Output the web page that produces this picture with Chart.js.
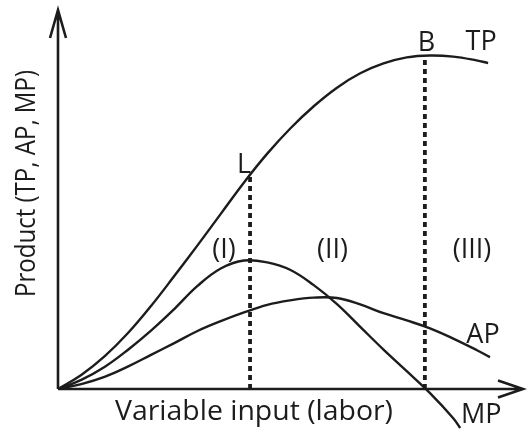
<!DOCTYPE html>
<html>
<head>
<meta charset="utf-8">
<script src="https://cdn.jsdelivr.net/npm/chart.js@4/dist/chart.umd.min.js"></script>
<style>
  html, body { margin: 0; padding: 0; background: #fff; }
  .chart-frame { position: relative; width: 527px; height: 429px; }
</style>
</head>
<body>
<div class="chart-frame"><canvas id="productChart"></canvas></div>
<script>
// labour input (x) and product (y), in chart units
const tpInput = [0, 0.5, 1, 1.5, 2, 2.5, 3, 3.5, 4, 4.5, 5, 5.5, 6, 6.5, 7, 7.5, 8, 8.5, 9, 9.25];
const tpValues = [0, 0.37, 0.86, 1.47, 2.19, 2.98, 3.79, 4.62, 5.45, 6.21, 6.88, 7.46, 7.95, 8.33, 8.59, 8.75, 8.8, 8.77, 8.67, 8.6];

const apInput = [0, 0.5, 1, 1.5, 2, 2.5, 3, 3.5, 4, 4.5, 5, 5.5, 6, 6.5, 7, 7.5, 8, 8.5, 9, 9.29];
const apValues = [0, 0.13, 0.32, 0.59, 0.9, 1.21, 1.53, 1.79, 2.02, 2.22, 2.34, 2.41, 2.4, 2.23, 2.0, 1.81, 1.6, 1.33, 1.03, 0.84];

const mpInput = [0, 0.5, 1, 1.5, 2, 2.5, 3, 3.5, 4, 4.5, 5, 5.5, 6, 6.5, 7, 7.5, 8, 8.5, 8.65];
const mpValues = [0, 0.24, 0.58, 1.03, 1.54, 2.11, 2.72, 3.18, 3.39, 3.34, 3.14, 2.74, 2.24, 1.64, 1.04, 0.47, -0.11, -0.77, -1.03];

// L and B: ends of stage I and stage II
const stageBounds = [4.13, 7.89];
const stageNames = ["(I)", "(II)", "(III)"];

const inkColor = "#1c1c1c";
const fontFamily = "'Open Sans', 'Noto Sans', sans-serif";

function toPoints(xs, ys) {
  return xs.map((x, index) => ({ x, y: ys[index] }));
}

// straight-line lookup between the read TP samples
function tpAt(input) {
  for (let index = 1; index < tpInput.length; index += 1) {
    if (input <= tpInput[index]) {
      const x0 = tpInput[index - 1];
      const t = (input - x0) / (tpInput[index] - x0);
      return tpValues[index - 1] + t * (tpValues[index] - tpValues[index - 1]);
    }
  }
  return tpValues[tpValues.length - 1];
}

function curve(label, xs, ys, extra) {
  return {
    label,
    data: toPoints(xs, ys),
    borderColor: inkColor,
    borderWidth: 2.4,
    pointRadius: 0,
    fill: false,
    tension: 0.4,
    ...extra
  };
}

function stageLine(bound) {
  return {
    label: `stage-${bound}`,
    data: [{ x: bound, y: 0 }, { x: bound, y: tpAt(bound) - 0.05 }],
    borderColor: inkColor,
    borderWidth: 3.8,
    borderDash: [5, 4],
    borderCapStyle: "butt",
    pointRadius: 0,
    fill: false
  };
}

const axesPlugin = {
  id: "axesPlugin",
  beforeDatasetsDraw(chart) {
    const { ctx, scales: { x, y } } = chart;
    const originX = x.getPixelForValue(0);
    const originY = y.getPixelForValue(0);
    const endX = x.getPixelForValue(x.max);
    const topY = y.getPixelForValue(y.max);

    ctx.save();
    ctx.strokeStyle = inkColor;
    ctx.lineWidth = 2.6;
    ctx.lineCap = "butt";
    ctx.beginPath();
    ctx.moveTo(originX, originY);
    ctx.lineTo(endX, originY);
    ctx.moveTo(endX - 25, originY - 8.5);
    ctx.lineTo(endX, originY);
    ctx.lineTo(endX - 25, originY + 8.5);
    ctx.moveTo(originX, originY);
    ctx.lineTo(originX, topY);
    ctx.moveTo(originX - 8, topY + 28);
    ctx.lineTo(originX, topY);
    ctx.lineTo(originX + 8, topY + 28);
    ctx.stroke();
    ctx.restore();
  }
};

function fillFitted(ctx, text, x, y, width) {
  const measured = ctx.measureText(text).width;
  ctx.save();
  ctx.translate(x, y);
  ctx.scale(width / measured, 1);
  ctx.fillText(text, 0, 0);
  ctx.restore();
}

const labelPlugin = {
  id: "labelPlugin",
  afterDatasetsDraw(chart) {
    const { ctx, chartArea, scales: { x, y } } = chart;
    const px = (value) => x.getPixelForValue(value);
    const py = (value) => y.getPixelForValue(value);
    const lastOf = (arr) => arr[arr.length - 1];

    ctx.save();
    ctx.fillStyle = inkColor;
    ctx.font = `27px ${fontFamily}`;
    ctx.textBaseline = "alphabetic";

    ctx.textAlign = "right";
    ctx.fillText("L", px(stageBounds[0]) + 1, py(tpAt(stageBounds[0])) - 2);

    ctx.textAlign = "center";
    ctx.fillText("B", px(stageBounds[1]) + 1.5, py(tpAt(stageBounds[1])) - 5);
    ctx.fillText("TP", px(lastOf(tpInput)) - 7, py(lastOf(tpValues)) - 13);
    ctx.fillText("AP", px(lastOf(apInput)) - 7, py(lastOf(apValues)) - 14);
    ctx.fillText("MP", px(lastOf(mpInput)) + 21, py(lastOf(mpValues)) - 5);

    const stageY = chartArea.top + 248;
    const lX = px(stageBounds[0]);
    const bX = px(stageBounds[1]);
    ctx.fillText(stageNames[0], lX - 26, stageY);
    ctx.fillText(stageNames[1], (lX + bX) / 2 - 5, stageY);
    ctx.fillText(stageNames[2], (bX + chartArea.right) / 2 - 2, stageY);

    // axis titles
    fillFitted(ctx, "Variable input (labor)", 254, chartArea.bottom + 31, 278);
    ctx.translate(35, 183.5);
    ctx.rotate(-Math.PI / 2);
    fillFitted(ctx, "Product (TP, AP, MP)", 0, 0, 227);
    ctx.restore();
  }
};

new Chart(document.getElementById("productChart"), {
  type: "line",
  data: {
    datasets: [
      curve("TP", tpInput, tpValues),
      curve("AP", apInput, apValues),
      curve("MP", mpInput, mpValues, { clip: false }),
      ...stageBounds.map(stageLine)
    ]
  },
  options: {
    responsive: true,
    maintainAspectRatio: false,
    animation: false,
    layout: { padding: { top: 10, right: 4, bottom: 40, left: 58 } },
    plugins: {
      legend: { display: false },
      tooltip: { enabled: false }
    },
    scales: {
      x: { type: "linear", min: 0, max: 10, display: false },
      y: { type: "linear", min: 0, max: 10, display: false }
    }
  },
  plugins: [axesPlugin, labelPlugin]
});
</script>
</body>
</html>
